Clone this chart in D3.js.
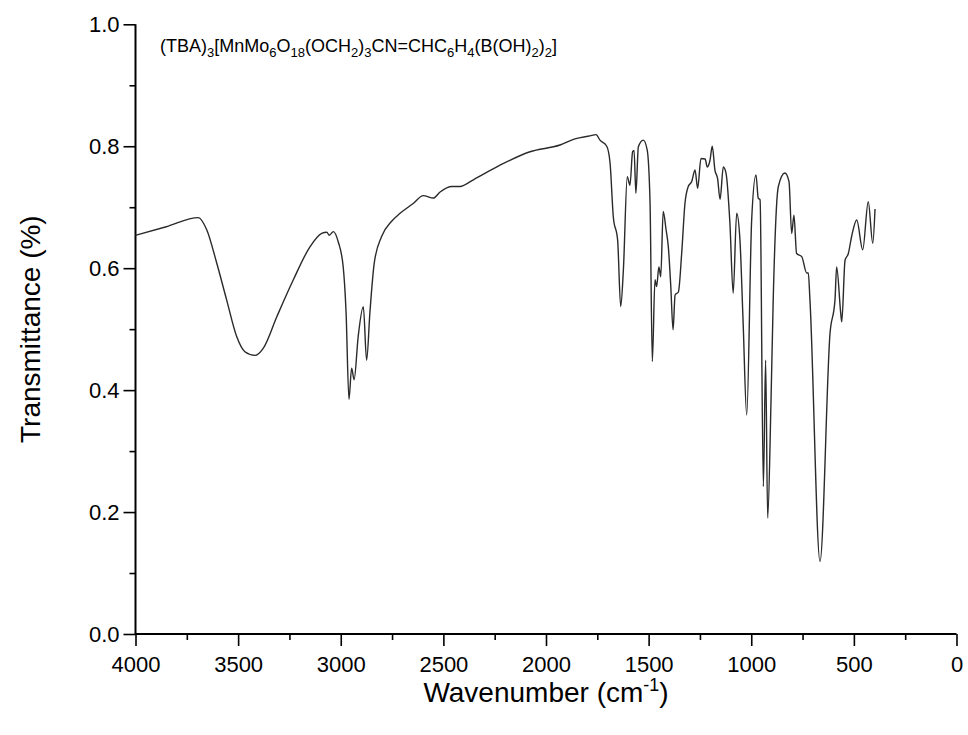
<!DOCTYPE html>
<html>
<head>
<meta charset="utf-8">
<script src="https://cdn.jsdelivr.net/npm/d3@7"></script>
<style>
  body { margin: 0; background: #fff; }
  svg { display: block; font-family: Arial, "Liberation Sans", sans-serif; }
</style>
</head>
<body>
<svg id="chart" width="968" height="735"></svg>
<script>
// IR spectrum (wavenumber in cm-1, transmittance)
const wavenumbers = [4000, 3850, 3694, 3653, 3604, 3556, 3507, 3467, 3418, 3377, 3312, 3231, 3150, 3093, 3068, 3056, 3036, 3012, 2988, 2974,
    2960, 2947, 2935, 2915, 2890, 2874, 2858, 2837, 2801, 2752, 2711, 2647, 2598, 2549, 2516, 2459, 2419, 2354, 2224, 2078,
    1932, 1859, 1786, 1756, 1737, 1704, 1688, 1672, 1651, 1636, 1623, 1604, 1591, 1578, 1571, 1562, 1550, 1526, 1507, 1493,
    1482, 1469, 1461, 1450, 1441, 1429, 1415, 1404, 1392, 1381, 1371, 1355, 1339, 1323, 1307, 1290, 1274, 1261, 1245, 1225,
    1214, 1201, 1190, 1177, 1164, 1152, 1136, 1123, 1104, 1088, 1071, 1055, 1040, 1022, 998, 977, 966, 957, 941, 930,
    920, 904, 893, 868, 836, 816, 803, 792, 779, 754, 730, 722, 714, 665, 616, 592, 584, 564, 559, 543,
    527, 511, 486, 457, 430, 408, 397];
const transmittance = [0.654, 0.668, 0.683, 0.663, 0.608, 0.548, 0.488, 0.463, 0.457, 0.469, 0.520, 0.581, 0.635, 0.657, 0.659, 0.654, 0.660, 0.643, 0.602, 0.527,
    0.385, 0.436, 0.417, 0.488, 0.537, 0.449, 0.527, 0.608, 0.652, 0.677, 0.690, 0.706, 0.719, 0.715, 0.725, 0.734, 0.734, 0.745, 0.769, 0.791,
    0.802, 0.812, 0.817, 0.819, 0.810, 0.800, 0.773, 0.684, 0.646, 0.537, 0.597, 0.750, 0.736, 0.791, 0.793, 0.723, 0.799, 0.810, 0.794, 0.706,
    0.447, 0.581, 0.570, 0.602, 0.586, 0.693, 0.663, 0.635, 0.570, 0.499, 0.556, 0.561, 0.624, 0.706, 0.734, 0.742, 0.761, 0.731, 0.780, 0.779,
    0.766, 0.777, 0.800, 0.761, 0.747, 0.713, 0.766, 0.756, 0.674, 0.559, 0.690, 0.646, 0.515, 0.359, 0.679, 0.753, 0.715, 0.712, 0.242, 0.449,
    0.190, 0.378, 0.548, 0.734, 0.756, 0.742, 0.657, 0.687, 0.624, 0.619, 0.592, 0.592, 0.548, 0.119, 0.494, 0.548, 0.602, 0.526, 0.512, 0.613,
    0.624, 0.652, 0.679, 0.630, 0.709, 0.641, 0.697];

const xTicks = [4000, 3500, 3000, 2500, 2000, 1500, 1000, 500, 0];
const yTicks = [0.0, 0.2, 0.4, 0.6, 0.8, 1.0];

// compound name, pieces as [text, isSubscript]
const titleParts = [["(TBA)", false], ["3", true], ["[MnMo", false], ["6", true], ["O", false], ["18", true], ["(OCH", false], ["2", true],
    [")", false], ["3", true], ["CN=CHC", false], ["6", true], ["H", false], ["4", true], ["(B(OH)", false], ["2", true], [")", false], ["2", true], ["]", false]];

const margin = {left: 135.5, right: 11.5, top: 24.3, bottom: 101};
const width = 968, height = 735;
const svg = d3.select("#chart");

const x = d3.scaleLinear().domain([4000, 0]).range([margin.left, width - margin.right]);
const y = d3.scaleLinear().domain([0, 1]).range([height - margin.bottom, margin.top]);

const data = wavenumbers.map((w, i) => ({w: w, t: transmittance[i]}));

//axes
let xAxis = svg.append("g")
    .attr("transform", `translate(0,${y(0)})`)
    .call(d3.axisBottom(x).tickValues(xTicks).tickFormat(d3.format("d")).tickSize(12).tickPadding(10));
svg.append("g")
    .attr("transform", `translate(0,${y(0)})`)
    .call(d3.axisBottom(x).tickValues(d3.range(250, 4000, 500)).tickFormat("").tickSize(6))
    .select(".domain").remove();

let yAxis = svg.append("g")
    .attr("transform", `translate(${x(4000)},0)`)
    .call(d3.axisLeft(y).tickValues(yTicks).tickFormat(d3.format(".1f")).tickSize(12).tickPadding(4));
svg.append("g")
    .attr("transform", `translate(${x(4000)},0)`)
    .call(d3.axisLeft(y).tickValues([0.1, 0.3, 0.5, 0.7, 0.9]).tickFormat("").tickSize(6))
    .select(".domain").remove();

svg.selectAll(".domain").attr("stroke", "#000").attr("stroke-width", 2);
svg.selectAll(".tick line").attr("stroke", "#000").attr("stroke-width", 1.6);
svg.selectAll(".tick text").attr("fill", "#000").style("font-size", "22px")
    .style("font-family", "Arial, 'Liberation Sans', sans-serif");
// domain path has outer ticks; make them flat
xAxis.select(".domain").attr("d", `M${x(4000)},0H${x(0)}`);
yAxis.select(".domain").attr("d", `M0,${y(1)}V${y(0)}`);

//spectrum
svg.append("path")
    .datum(data)
    .attr("fill", "none")
    .attr("stroke", "#2a2a2a")
    .attr("stroke-width", 1.4)
    .attr("stroke-linejoin", "round")
    .attr("d", d3.line().x(d => x(d.w)).y(d => y(d.t)).curve(d3.curveMonotoneX));

//axis titles
svg.append("text")
    .attr("transform", `translate(40,${(y(0) + y(1)) / 2}) rotate(-90)`)
    .attr("text-anchor", "middle")
    .style("font-size", "28px")
    .text("Transmittance (%)");

let xTitle = svg.append("text")
    .attr("x", x(2000))
    .attr("y", 702)
    .attr("text-anchor", "middle")
    .style("font-size", "28px");
xTitle.append("tspan").text("Wavenumber (cm");
xTitle.append("tspan").attr("dy", -11).style("font-size", "18px").text("-1");
xTitle.append("tspan").attr("dy", 11).text(")");

//compound label
let title = svg.append("text")
    .attr("x", 160)
    .attr("y", 52)
    .style("font-size", "18px");
let lowered = false;
for (let [s, sub] of titleParts){
    let dy = 0;
    if (sub && !lowered){ dy = 5; lowered = true; }
    else if (!sub && lowered){ dy = -5; lowered = false; }
    title.append("tspan")
        .attr("dy", dy)
        .style("font-size", sub ? "13px" : "18px")
        .text(s);
}
</script>
</body>
</html>
